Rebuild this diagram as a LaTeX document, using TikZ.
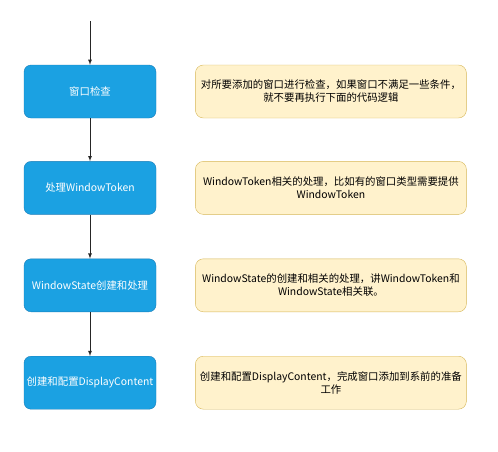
\documentclass[tikz,border=0pt]{standalone}
\usepackage{fontspec}
\setmainfont{Noto Sans CJK SC}
\usetikzlibrary{positioning}
\definecolor{procfill}{HTML}{1BA1E2}
\definecolor{procline}{HTML}{1A7DB8}
\definecolor{notefill}{HTML}{FFF2CC}
\definecolor{noteline}{HTML}{D6B656}

\begin{document}
\begin{tikzpicture}[x=1pt,y=-1pt,font=\fontsize{10.4}{13}\selectfont,
    proc/.style={draw=procline,fill=procfill,text=white,rounded corners=7pt,
      minimum width=132pt,minimum height=53pt,inner sep=1pt,align=center},
    note/.style={draw=noteline,fill=notefill,text=black,rounded corners=8pt,
      minimum width=271pt,minimum height=53pt,inner sep=1pt,align=center},
    flow/.style={->,>=latex,line width=0.8pt,draw=black!85}]
    \useasboundingbox (0,0) rectangle (498,451);
    % main steps
    \coordinate (start) at (90,21);
    \node[proc] (check) at (90,91.5) {窗口检查};
    \node[proc,below=43pt of check] (token) {处理WindowToken};
    \node[proc,below=44pt of token] (state) {WindowState创建和处理};
    \node[proc,below=44pt of state] (display) {创建和配置DisplayContent};
    % notes
    \node[note,right=39pt of check] (checknote)
      {对所要添加的窗口进行检查，如果窗口不满足一些条件，\\就不要再执行下面的代码逻辑};
    \node[note,right=39pt of token] (tokennote)
      {WindowToken相关的处理，比如有的窗口类型需要提供\\WindowToken};
    \node[note,right=39pt of state] (statenote)
      {WindowState的创建和相关的处理，讲WindowToken和\\WindowState相关联。};
    \node[note,right=39pt of display] (displaynote)
      {创建和配置DisplayContent，完成窗口添加到系前的准备\\工作};
    \draw[flow] (start) -- (check);
    \draw[flow] (check) -- (token);
    \draw[flow] (token) -- (state);
    \draw[flow] (state) -- (display);
\end{tikzpicture}
\end{document}
